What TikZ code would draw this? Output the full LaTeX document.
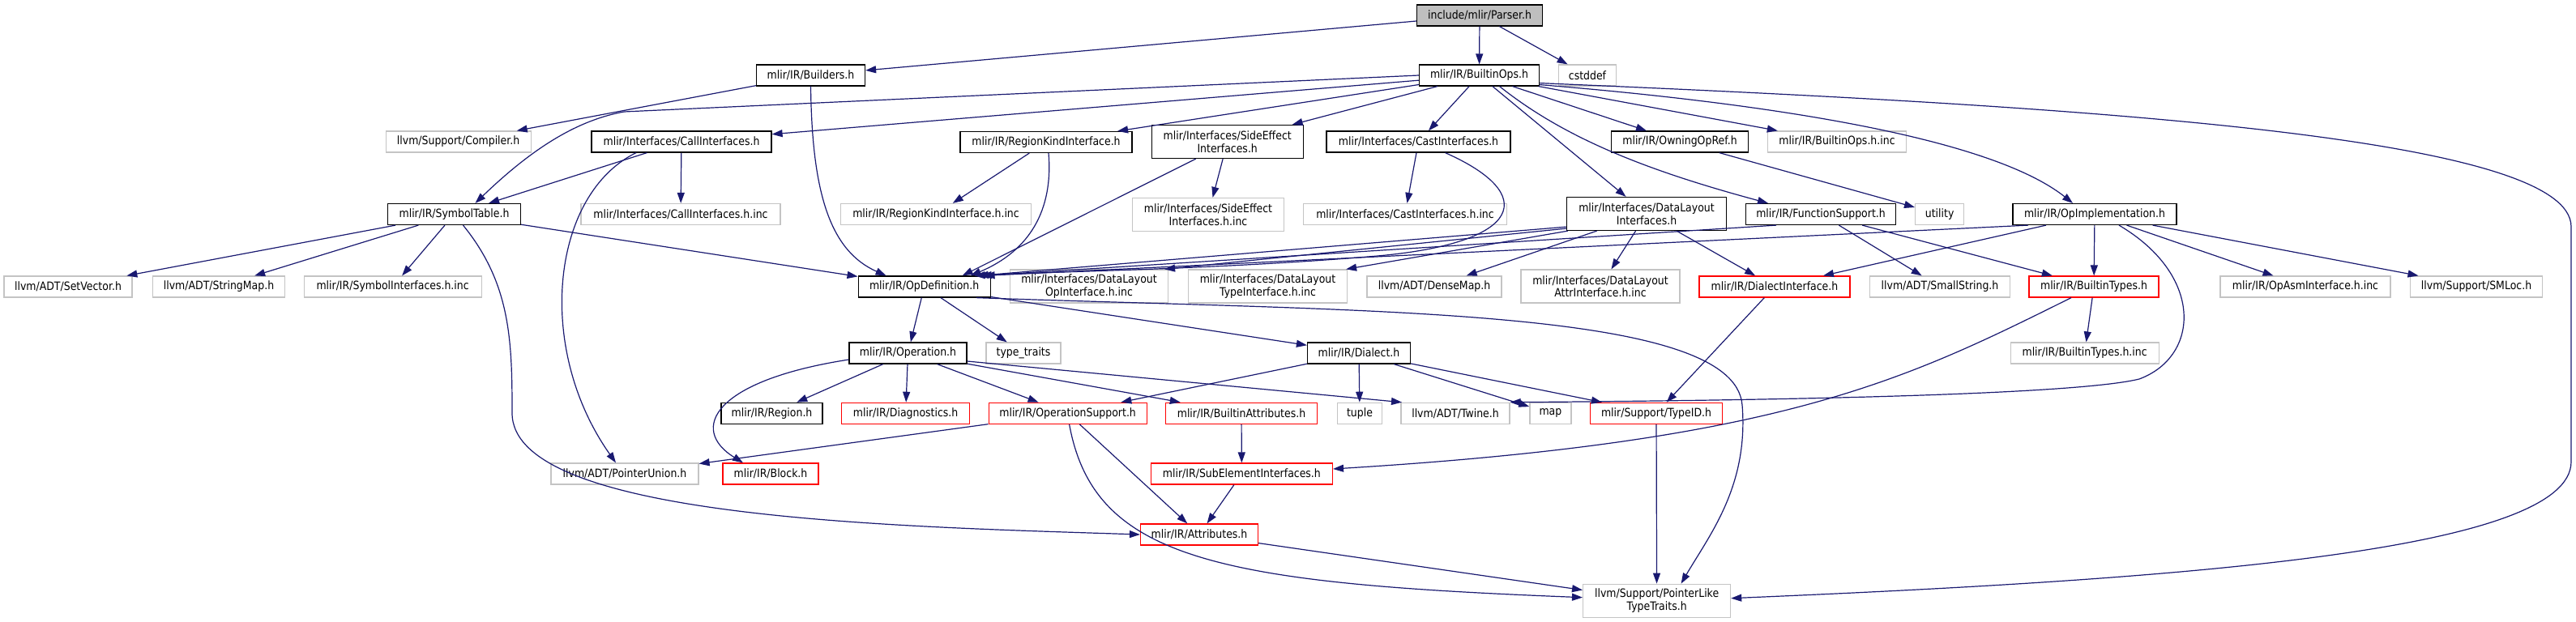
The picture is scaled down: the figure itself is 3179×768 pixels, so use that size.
\documentclass[tikz,border=0pt]{standalone}
\usepackage{fontspec}
\setmainfont{DejaVu Sans}[FakeStretch=0.88]
\usetikzlibrary{arrows.meta}
\definecolor{edgecol}{HTML}{191970}
\definecolor{graybd}{HTML}{C4C4C4}
\definecolor{redbd}{HTML}{FF0000}
\definecolor{rootfill}{HTML}{BFBFBF}
\begin{document}
\begin{tikzpicture}[x=1bp,y=-1bp,
  every node/.style={font=\fontsize{14.2bp}{15.5bp}\selectfont, inner sep=0pt, align=center, text=black},
  box/.style={rectangle, line width=1.2bp, fill=white, minimum height=26bp},
  tall/.style={minimum height=41bp},
  nb/.style={box, draw=black},
  ng/.style={box, draw=graybd},
  nr/.style={box, draw=redbd},
  nroot/.style={box, draw=black, fill=rootfill},
  e/.style={draw=edgecol, line width=1.2bp, -{Triangle[length=13bp,width=9bp]}, color=edgecol}
]
\useasboundingbox (0,0) rectangle (3179,768);

% row 1-2
\node[nroot, minimum width=155bp] (parser) at (1826,19) {include/mlir/Parser.h};
\node[nb, minimum width=134bp] (builders) at (1000.5,93) {mlir/IR/Builders.h};
\node[nb, minimum width=148bp] (builtinops) at (1825.5,93) {mlir/IR/BuiltinOps.h};
\node[ng, minimum width=71bp] (cstddef) at (1959,93) {cstddef};

% row 3
\node[ng, minimum width=179bp] (compiler) at (565.6,175) {llvm/Support/Compiler.h};
\node[nb, minimum width=222bp] (callif) at (841,175) {mlir/Interfaces/CallInterfaces.h};
\node[nb, minimum width=212bp] (regionkind) at (1291,175.5) {mlir/IR/RegionKindInterface.h};
\node[nb, tall, minimum width=187bp] (sideeffect) at (1514.7,175) {mlir/Interfaces/SideEffect\\Interfaces.h};
\node[nb, minimum width=227bp] (castif) at (1750.5,175) {mlir/Interfaces/CastInterfaces.h};
\node[nb, minimum width=169bp] (owning) at (2073,175) {mlir/IR/OwningOpRef.h};
\node[ng, minimum width=171bp] (builtinopsinc) at (2267,175) {mlir/IR/BuiltinOps.h.inc};

% row 4
\node[nb, minimum width=164bp] (symtab) at (560.5,264.5) {mlir/IR/SymbolTable.h};
\node[ng, minimum width=246bp] (callinc) at (840,264.5) {mlir/Interfaces/CallInterfaces.h.inc};
\node[ng, minimum width=235bp] (regioninc) at (1155,264.5) {mlir/IR/RegionKindInterface.h.inc};
\node[ng, tall, minimum width=187bp] (sideinc) at (1491,265) {mlir/Interfaces/SideEffect\\Interfaces.h.inc};
\node[ng, minimum width=251bp] (castinc) at (1734,264.5) {mlir/Interfaces/CastInterfaces.h.inc};
\node[nb, tall, minimum width=197bp] (dlif) at (2032,264) {mlir/Interfaces/DataLayout\\Interfaces.h};
\node[nb, minimum width=185bp] (funcsup) at (2247,264.5) {mlir/IR/FunctionSupport.h};
\node[ng, minimum width=60bp] (utility) at (2393.6,264.5) {utility};
\node[nb, minimum width=202bp] (opimpl) at (2585,264.5) {mlir/IR/OpImplementation.h};

% row 5
\node[ng, minimum width=158bp] (setvector) at (84,354) {llvm/ADT/SetVector.h};
\node[ng, minimum width=163bp] (stringmap) at (270,354) {llvm/ADT/StringMap.h};
\node[ng, minimum width=219bp] (symif) at (484.6,354) {mlir/IR/SymbolInterfaces.h.inc};
\node[nb, minimum width=163bp] (opdef) at (1140.6,354) {mlir/IR/OpDefinition.h};
\node[ng, tall, minimum width=195bp] (dlopinc) at (1344,353.5) {mlir/Interfaces/DataLayout\\OpInterface.h.inc};
\node[ng, tall, minimum width=196bp] (dltypeinc) at (1564.5,353.5) {mlir/Interfaces/DataLayout\\TypeInterface.h.inc};
\node[ng, minimum width=166bp] (densemap) at (1770,354) {llvm/ADT/DenseMap.h};
\node[ng, tall, minimum width=196bp] (dlattrinc) at (1975,353.5) {mlir/Interfaces/DataLayout\\AttrInterface.h.inc};
\node[nr, minimum width=186bp] (dialectif) at (2190,354) {mlir/IR/DialectInterface.h};
\node[ng, minimum width=173bp] (smallstr) at (2394,354) {llvm/ADT/SmallString.h};
\node[nr, minimum width=160bp] (builtintypes) at (2584,354) {mlir/IR/BuiltinTypes.h};
\node[ng, minimum width=210bp] (opasminc) at (2845,354) {mlir/IR/OpAsmInterface.h.inc};
\node[ng, minimum width=163bp] (smloc) at (3056,354) {llvm/Support/SMLoc.h};

% row 6
\node[nb, minimum width=145bp] (operation) at (1120.5,436) {mlir/IR/Operation.h};
\node[ng, minimum width=92bp] (typetraits) at (1263,436) {type\_traits};
\node[nb, minimum width=127bp] (dialect) at (1677,436) {mlir/IR/Dialect.h};
\node[ng, minimum width=183bp] (builtintypesinc) at (2572.6,436) {mlir/IR/BuiltinTypes.h.inc};

% row 7
\node[nb, minimum width=125bp] (region) at (952.5,510.3) {mlir/IR/Region.h};
\node[nr, minimum width=158bp] (diagnostics) at (1117.6,510.3) {mlir/IR/Diagnostics.h};
\node[nr, minimum width=195bp] (opsupport) at (1317.6,510.3) {mlir/IR/OperationSupport.h};
\node[nr, minimum width=187bp] (builtinattr) at (1532,510.3) {mlir/IR/BuiltinAttributes.h};
\node[ng, minimum width=55bp] (tuple) at (1678,510.3) {tuple};
\node[ng, minimum width=134bp] (twine) at (1796,510.3) {llvm/ADT/Twine.h};
\node[ng, minimum width=51bp] (map) at (1913.4,510.3) {map};
\node[nr, minimum width=163bp] (typeid) at (2044,510.3) {mlir/Support/TypeID.h};

% row 8
\node[ng, minimum width=182bp] (ptrunion) at (771,585) {llvm/ADT/PointerUnion.h};
\node[nr, minimum width=118bp] (block) at (951,585) {mlir/IR/Block.h};
\node[nr, minimum width=224bp] (subelem) at (1532.4,585) {mlir/IR/SubElementInterfaces.h};

% row 9-10
\node[nr, minimum width=145bp] (attributes) at (1480,660) {mlir/IR/Attributes.h};
\node[ng, tall, minimum width=182bp] (ptrlike) at (2044.6,741.7) {llvm/Support/PointerLike\\TypeTraits.h};

% ---------------- edges ----------------
\draw[e] (parser) -- (builders);
\draw[e] (parser) -- (builtinops);
\draw[e] (parser) -- (cstddef);

\draw[e] (builders) -- (compiler);
\draw[e] (builders.south) .. controls (1002,240) and (1025,310) .. ([xshift=-47bp]opdef.north);

\draw[e] (builtinops.west) -- (770,138) .. controls (715,148) and (660,180) .. ([xshift=26bp]symtab.north);
\draw[e] (builtinops) -- (callif);
\draw[e] (builtinops) -- (regionkind);
\draw[e] (builtinops) -- (sideeffect);
\draw[e] (builtinops) -- (castif);
\draw[e] (builtinops) -- (dlif);
\draw[e] ([xshift=25bp]builtinops.south) .. controls (1930,170) and (2030,210) .. ([xshift=-65bp]funcsup.north);
\draw[e] (builtinops) -- (owning);
\draw[e] (builtinops) -- (builtinopsinc);
\draw[e] ([yshift=2bp]builtinops.south east) .. controls (2150,125) and (2450,165) .. ([xshift=-27bp]opimpl.north);
\draw[e] ([yshift=4bp]builtinops.south east) .. controls (2600,132) and (3173,170) .. (3173,280) -- (3173,570) .. controls (3173,680) and (2700,715) .. ([yshift=3bp]ptrlike.east);

\draw[e] (callif) -- (callinc);
\draw[e] (callif) -- (symtab);
\draw[e] ([xshift=-56bp]callif.south) .. controls (680,240) and (660,430) .. ([xshift=-11bp]ptrunion.north);

\draw[e] (symtab) -- (setvector);
\draw[e] (symtab) -- (stringmap);
\draw[e] (symtab) -- (symif);
\draw[e] (symtab) -- (opdef);
\draw[e] ([xshift=11bp]symtab.south) .. controls (630,350) and (632,420) .. (632,510) .. controls (632,640) and (1100,650) .. (attributes.west);

\draw[e] (regionkind) -- (regioninc);
\draw[e] ([xshift=3bp]regionkind.south) .. controls (1300,260) and (1270,310) .. ([xshift=57bp]opdef.north);

\draw[e] (sideeffect) -- (sideinc);
\draw[e] ([xshift=-39bp]sideeffect.south) -- ([xshift=47bp]opdef.north);

\draw[e] (castif) -- (castinc);
\draw[e] ([xshift=33bp]castif.south) .. controls (1900,240) and (1880,300) .. (1700,316) .. controls (1500,333) and (1300,335) .. ([xshift=62bp]opdef.north);

\draw[e] ([yshift=5bp]dlif.south west) -- ([xshift=66bp]opdef.north);
\draw[e] ([yshift=3bp]dlif.south west) -- ([xshift=-5bp]dlopinc.north east);
\draw[e] ([xshift=2bp]dlif.south west) -- ([xshift=-2bp]dltypeinc.north east);
\draw[e] (dlif) -- (densemap);
\draw[e] (dlif) -- (dlattrinc);
\draw[e] (dlif) -- (dialectif);

\draw[e] ([xshift=-55bp]funcsup.south) -- ([xshift=70bp]opdef.north);
\draw[e] (funcsup) -- (smallstr);
\draw[e] (funcsup) -- (builtintypes);

\draw[e] (owning) -- (utility);

\draw[e] ([xshift=-82bp]opimpl.south) -- ([xshift=74bp]opdef.north);
\draw[e] (opimpl) -- (dialectif);
\draw[e] (opimpl) -- (builtintypes);
\draw[e] (opimpl) -- (opasminc);
\draw[e] (opimpl) -- (smloc);
\draw[e] ([xshift=30bp]opimpl.south) .. controls (2720,340) and (2715,440) .. (2640,468) .. controls (2550,490) and (2100,495) .. (twine.north east);

\draw[e] (opdef) -- (operation);
\draw[e] (opdef) -- (typetraits);
\draw[e] (opdef) -- (dialect);
\draw[e] ([xshift=-18bp]opdef.south east) .. controls (1700,385) and (2140,380) .. (2150,500) .. controls (2158,600) and (2110,660) .. ([xshift=30bp]ptrlike.north);

\draw[e] (operation) -- (region);
\draw[e] (operation) -- (diagnostics);
\draw[e] (operation) -- (opsupport);
\draw[e] (operation) -- (builtinattr);
\draw[e] ([yshift=-8bp]operation.west) .. controls (880,470) and (850,530) .. ([xshift=-34bp]block.north);
\draw[e] ([yshift=-10bp]operation.east) -- ([xshift=-66bp]twine.north);

\draw[e] (dialect) -- (opsupport);
\draw[e] (dialect) -- (tuple);
\draw[e] (dialect) -- (map);
\draw[e] (dialect) -- (typeid);

\draw[e] (opsupport) -- (ptrunion);
\draw[e] (opsupport) -- (attributes);
\draw[e] ([xshift=2bp]opsupport.south) .. controls (1350,690) and (1500,720) .. ([yshift=4bp]ptrlike.west);

\draw[e] (builtinattr) -- (subelem);
\draw[e] (subelem) -- (attributes);
\draw[e] ([xshift=-28bp]builtintypes.south) .. controls (2350,470) and (2200,545) .. ([yshift=6bp]subelem.east);
\draw[e] (builtintypes) -- (builtintypesinc);
\draw[e] (dialectif) -- (typeid);
\draw[e] (typeid) -- (ptrlike);
\draw[e] (attributes) -- (ptrlike);
\end{tikzpicture}
\end{document}
